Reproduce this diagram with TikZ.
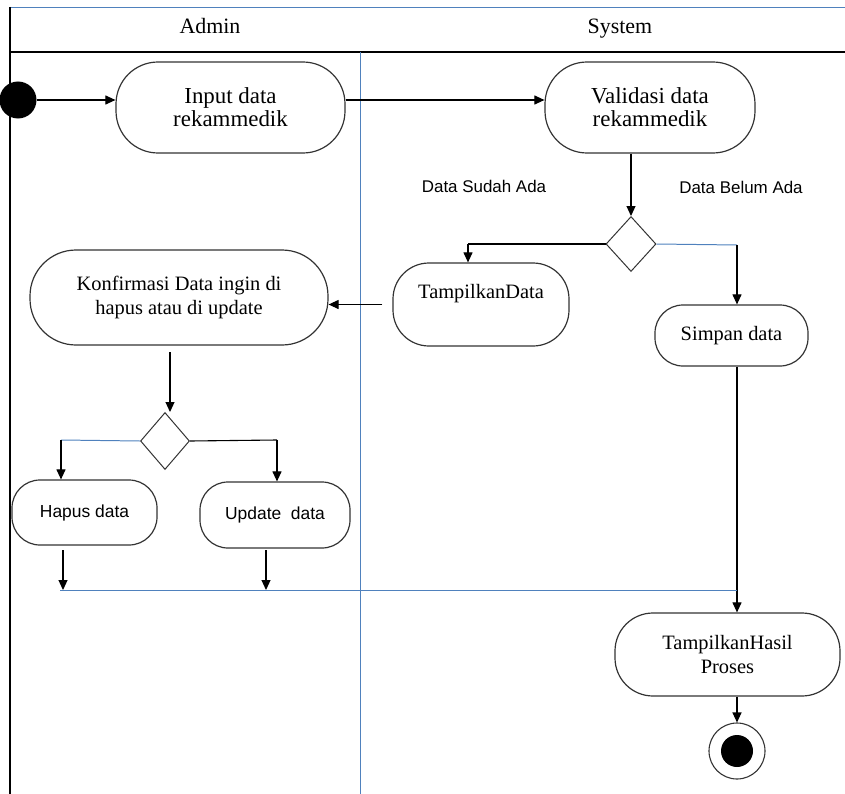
\documentclass[tikz,border=0pt]{standalone}
\usepackage{fontspec}
\setmainfont{Liberation Serif}
\newfontfamily\lsans{Liberation Sans}
\usetikzlibrary{shapes.geometric,arrows.meta}
\definecolor{lane}{RGB}{79,129,189}
\begin{document}
\begin{tikzpicture}[x=1bp,y=-1bp,
  act/.style={draw=black!80, line width=1.2pt, rectangle, inner sep=0pt, align=center,
    font=\fontsize{20.5}{24}\selectfont},
  bigact/.style={act, font=\fontsize{23}{23}\selectfont},
  sansact/.style={act, font=\lsans\fontsize{17.5}{21}\selectfont},
  dec/.style={draw=black!80, line width=1pt, diamond, inner sep=0pt, aspect=0.9},
  arr/.style={-{Triangle[length=10bp,width=9bp]}, line width=1.1pt},
  flow/.style={line width=1.1pt},
  laneline/.style={draw=lane, line width=1pt},
  hdr/.style={font=\fontsize{22}{24}\selectfont, anchor=base},
  guard/.style={font=\lsans\fontsize{17}{20}\selectfont}
]
\useasboundingbox (0,0) rectangle (845,794);
% swimlanes
\coordinate (tl) at (10,7);
\coordinate (tr) at (845,7);
\coordinate (hl) at (10,52);
\coordinate (hr) at (845,52);
\coordinate (bl) at (10,794);
\coordinate (dt) at (360,52);
\coordinate (db) at (360,794);
\draw[laneline] (tl) -- (tr);
\draw[line width=1.1pt] (tl) -- (bl);
\draw[line width=1.8pt] (hl) -- (hr);
\draw[laneline] (dt) -- (db);
\node[hdr] (hadmin) at (210,34) {Admin};
\node[hdr] (hsys) at (620,34) {System};

% nodes
\node[circle, fill=black, minimum size=37bp, inner sep=0pt] (start) at (18,100) {};
\node[bigact, minimum width=229bp, minimum height=91bp, rounded corners=42bp] (input) at (230.5,107.5) {Input data\\rekammedik};
\node[bigact, minimum width=210bp, minimum height=91bp, rounded corners=42bp] (valid) at (650,107.5) {Validasi data\\rekammedik};
\node[dec, minimum width=50bp, minimum height=55bp] (dec1) at (631,244) {};
\node[guard] (gsudah) at (484,186) {Data Sudah Ada};
\node[guard] (gbelum) at (741,187) {Data Belum Ada};
\node[act, minimum width=176bp, minimum height=83bp, rounded corners=36bp] (tampd) at (481,304.5) {TampilkanData\\[2pt]~};
\node[act, minimum width=153bp, minimum height=61bp, rounded corners=28bp] (simpan) at (731.5,335.5) {Simpan data};
\node[act, minimum width=298bp, minimum height=95bp, rounded corners=46bp] (konf) at (179,297.5) {Konfirmasi Data ingin di\\hapus atau di update};
\node[dec, minimum width=49bp, minimum height=57bp] (dec2) at (165,441) {};
\node[sansact, minimum width=145bp, minimum height=65bp, rounded corners=28bp] (hapus) at (84.5,512.5) {Hapus data};
\node[sansact, minimum width=150bp, minimum height=66bp, rounded corners=28bp] (update) at (275,515) {Update\ \ data};
\node[act, minimum width=225bp, minimum height=83bp, rounded corners=38bp] (hasil) at (727.5,654.5) {TampilkanHasil\\Proses};
\node[circle, draw=black!80, line width=1.1pt, minimum size=56bp, inner sep=0pt] (final) at (737,751) {};
\node[circle, fill=black, minimum size=32bp, inner sep=0pt] (finalin) at (final) {};

% helper coordinates
\coordinate (c1) at (737,245);
\coordinate (k1) at (170,352);
\coordinate (hp) at (61,440);
\coordinate (up) at (277,440);
\coordinate (ta) at (468,244);
\coordinate (hb) at (63,550);
\coordinate (ub) at (266,550);
\coordinate (j1) at (60,590);
\coordinate (j2) at (737,590);

% connectors
\draw[arr] (start) -- (start -| input.west);
\draw[arr] (input.east |- start) -- (valid.west |- start);
\draw[arr] (dec1.north |- valid.south) -- (dec1.north);
\draw[flow] (dec1.west) -- (ta);
\draw[arr] (ta) -- (ta |- tampd.north);
\draw[laneline] (dec1.east) -- (c1);
\draw[arr] (c1) -- (c1 |- simpan.north);
\draw[flow] (c1 |- simpan.south) -- (j2);
\draw[arr] (j2) -- (j2 |- hasil.north);
\draw[arr] (final |- hasil.south) -- (final.north);
\draw[arr] ([xshift=-10bp]tampd.west) -- (konf.east |- tampd.west);
\draw[arr] (k1) -- (k1 |- dec2.north);
\draw[laneline] (dec2.west) -- (hp);
\draw[arr] (hp) -- (hp |- hapus.north);
\draw[flow] (dec2.east) -- (up);
\draw[arr] (up) -- (up |- update.north);
\draw[arr] (hb) -- (hb |- j1);
\draw[arr] (ub) -- (ub |- j1);
\draw[laneline] (j1) -- (j2);
\end{tikzpicture}
\end{document}
